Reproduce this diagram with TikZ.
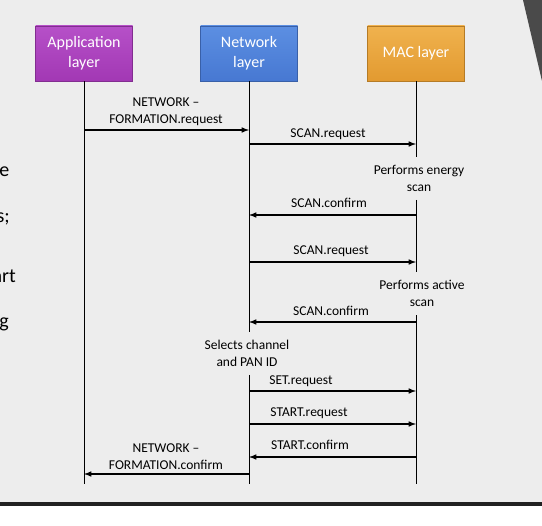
\documentclass[tikz,border=0pt]{standalone}
\usepackage{xcolor}
\usepackage{fontspec}
\setmainfont{Carlito}
\usepackage{tikz}
\usetikzlibrary{arrows}
\usetikzlibrary{positioning}
\usetikzlibrary{calc}
\definecolor{slidebg}{HTML}{EDEDED}
\definecolor{corner}{HTML}{4A4A4A}
\definecolor{rule}{HTML}{222222}
\definecolor{applyr}{HTML}{A238B4}
\definecolor{applyrtop}{HTML}{B650C8}
\definecolor{netlyr}{HTML}{4778D2}
\definecolor{netlyrtop}{HTML}{5C8FE2}
\definecolor{maclyr}{HTML}{E29A30}
\definecolor{maclyrtop}{HTML}{F0B24E}

\begin{document}
\begin{tikzpicture}[x=1pt,y=-1pt,
  dep/.style ={
    -latex,line width=1.5pt
  },
  life/.style ={
    line width=0.9pt
  },
  lyr/.style 2 args={
    rectangle,
    draw=#1!80!black,
    top color=#2,
    bottom color=#1,
    minimum width=97pt,
    minimum height=55pt,
    inner sep=0pt,
    text=white,
    align=center,
    font=\fontsize{16}{20}\selectfont},
  msgtxt/.style={
    anchor=base,
    align=center,
    inner sep=0pt,
    font=\fontsize{13.5}{17}\selectfont},
  note/.style={
    anchor=base,
    align=center,
    inner sep=8pt,
    font=\fontsize{13.5}{17}\selectfont},
  frag/.style={
    anchor=base east,
    inner sep=0pt,
    font=\fontsize{20}{24}\selectfont},
]

  \def\xapp{84}%
  \def\xnet{249}%
  \def\xmac{416}%
  \def\ybox{53.5}%
  \def\yend{484}%

    % Slide
    \useasboundingbox (0,0) rectangle (542,526);
    \fill[slidebg] (0,0) rectangle (542,503);
    \fill[corner] (523,0) -- (542,0) -- (542,81) -- cycle;
    \draw[rule,line width=3.5pt] (0,504) -- (542,504);

    \node[frag] (frag1) at (9.5,177) {re};
    \node[frag] (frag2) at (10,223) {s;};
    \node[frag] (frag3) at (16,283) {art};
    \node[frag] (frag4) at (9,328) {g};

    % Layers
    \node[lyr={applyr}{applyrtop}] (app) at (\xapp,\ybox) {Application\\layer};
    \node[lyr={netlyr}{netlyrtop}] (net) at (\xnet,\ybox) {Network\\layer};
    \node[lyr={maclyr}{maclyrtop}] (mac) at (\xmac,\ybox) {MAC layer};

    % Notes on the lifelines (base = last line)
    \node[note] (energy) at (419,191.5) {Performs energy\\scan};
    \node[note] (active) at (422,307) {Performs active\\scan};
    \node[note] (select) at (247,366.5) {Selects channel\\and PAN ID};

    % Lifelines
    \draw[life] (app.south) -- (app.south |- 0,\yend);
    \draw[life] (net.south) -- (net.south |- select.north);
    \draw[life] (net.south |- select.south) -- (net.south |- 0,\yend);
    \draw[life] (mac.south) -- (mac.south |- energy.north);
    \draw[life] (mac.south |- energy.south) -- (mac.south |- active.north);
    \draw[life] (mac.south |- active.south) -- (mac.south |- 0,\yend);

    % Primitives
    \foreach \n/\y/\from/\to/\lx/\ly/\txt in {
        1/130/app/net/166/124/{NETWORK --\\FORMATION.request},
        2/144/net/mac/328/137.5/{SCAN.request},
        3/215/mac/net/329/208/{SCAN.confirm},
        4/262/net/mac/331/254.5/{SCAN.request},
        5/322/mac/net/331/316/{SCAN.confirm},
        6/391/net/mac/301/384.5/{SET.request},
        7/424/net/mac/309/417/{START.request},
        8/457/mac/net/310/450/{START.confirm},
        9/474/net/app/166/470/{NETWORK --\\FORMATION.confirm}} {
        \node[msgtxt] (msg_\n) at (\lx,\ly) {\txt};
        \draw[dep] (\from.south |- 0,\y) -- (\to.south |- 0,\y);
    }

\end{tikzpicture}
\end{document}
